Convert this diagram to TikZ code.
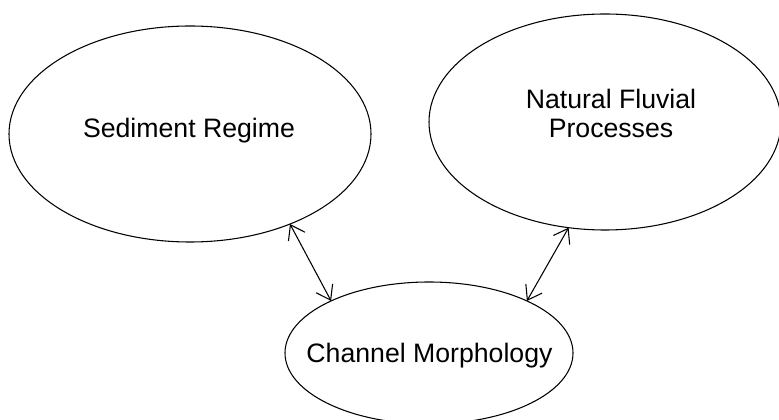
\documentclass[tikz,border=0pt]{standalone}
\usepackage{fontspec}
\setmainfont{Liberation Sans}
\usepackage{tikz}
\usetikzlibrary{shapes.geometric}
\usetikzlibrary{arrows.meta}

\tikzset{
  factor/.style={ellipse, draw, line width=.8pt, inner sep=0pt, outer sep=0pt},
  label/.style={font=\fontsize{20}{21.75}\selectfont, align=center},
  link/.style={line width=.8pt, {Straight Barb[length=10pt,width=14pt]}-{Straight Barb[length=10pt,width=14pt]}}
}

\begin{document}
\begin{tikzpicture}[x=.75pt,y=-.75pt]
      \useasboundingbox (0,0) rectangle (779,420);
      \clip (0,0) rectangle (779,420);
      \node [factor, minimum width=271.5pt, minimum height=162pt] (sed) at (190,134) {};
      \node [factor, minimum width=264pt, minimum height=162pt] (fluv) at (605,122) {};
      \node [factor, minimum width=216pt, minimum height=106.5pt] (chan) at (429,353) {};
      \node [label] (sedtext) at (189,131) {Sediment Regime};
      \node [label] (fluvtext) at (611,113) {Natural Fluvial\\Processes};
      \node [label] (chantext) at (429.5,356) {Channel Morphology};
      \draw [link] (sed.-42) -- (chan.152);
      \draw [link] (fluv.251) -- (chan.28);
    \end{tikzpicture}
\end{document}
